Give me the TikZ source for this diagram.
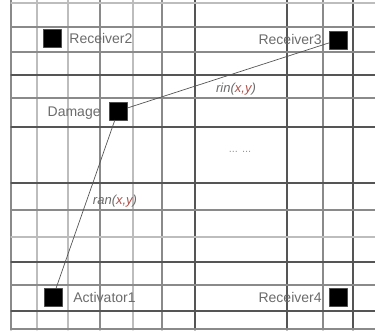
\documentclass[tikz,border=0pt]{standalone}
\usepackage{fontspec}
\setmainfont{Liberation Sans}
\usetikzlibrary{positioning}
\definecolor{GridDark}{HTML}{555555}
\definecolor{GridMid}{HTML}{8A8A8A}
\definecolor{GridLight}{HTML}{BDBDBD}
\definecolor{LabelGray}{HTML}{6B6B6B}
\definecolor{SquiggleRed}{HTML}{B0504A}

\begin{document}
\begin{tikzpicture}[x=1pt,y=-1pt,line cap=round,line join=round,
  sensor/.style={fill=black,draw=black!70,minimum size=18pt,inner sep=0pt},
  tag/.style={text=LabelGray,inner sep=0pt,text height=10pt,text depth=0pt,font=\fontsize{14}{16}\selectfont},
  rlabel/.style={text=LabelGray,inner sep=0pt,font=\fontsize{13}{15}\selectfont\itshape},
  conn/.style={draw=GridDark,line width=0.7pt}]
  \useasboundingbox (0,0) rectangle (375,332);
  % grid
  \foreach \x/\c in {11/GridMid,37/GridLight,68/GridLight,100/GridMid,133/GridLight,162/GridMid,195/GridDark,287/GridDark,323/GridMid,353/GridDark}
    {\draw[\c,line width=1.2pt] (\x,0)--(\x,330);}
  \foreach \y/\c in {3/GridLight,27/GridMid,52/GridMid,75/GridDark,98/GridMid,127/GridDark,183/GridDark,210/GridMid,237/GridLight,262/GridDark,285/GridMid,311/GridDark,329/GridMid}
    {\draw[\c,line width=1.2pt] (11,\y)--(375,\y);}
  % sensors
  \node[sensor] (rcv2) at (52,38) {};
  \node[sensor] (rcv3) at (338,40) {};
  \node[sensor] (dmg) at (118,111) {};
  \node[sensor] (act1) at (53,297) {};
  \node[sensor] (rcv4) at (338,297) {};
  \node[tag,right=8pt of rcv2] (rcv2txt) {Receiver2};
  \node[tag,left=7pt of rcv3] (rcv3txt) {Receiver3};
  \node[tag,left=8pt of dmg] (dmgtxt) {Damage};
  \node[tag,right=11pt of act1] (act1txt) {Activator1};
  \node[tag,left=7pt of rcv4] (rcv4txt) {Receiver4};
  % paths
  \draw[conn] (dmg)--(rcv3);
  \draw[conn] (dmg)--(act1);
  \node[rlabel] (rdr) at (236,89) {rin(\textcolor{SquiggleRed}{x,y})};
  \node[rlabel] (rad) at (115,201) {ran(\textcolor{SquiggleRed}{x,y})};
  \node[text=LabelGray!70,inner sep=0pt,font=\fontsize{11}{13}\selectfont] (dots) at (240,152) {... ...};
\end{tikzpicture}
\end{document}
